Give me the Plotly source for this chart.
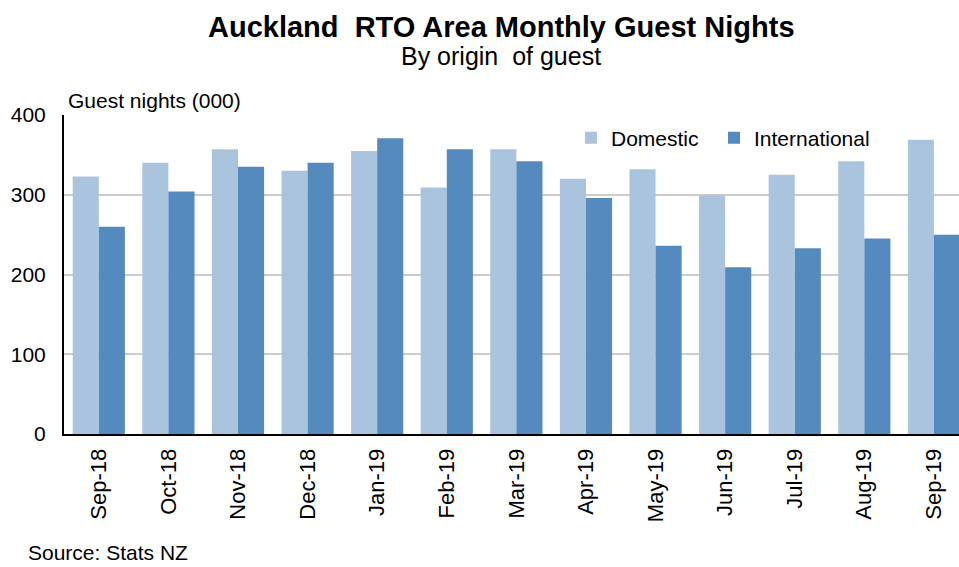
import plotly.graph_objects as go

categories = ["Sep-18", "Oct-18", "Nov-18", "Dec-18", "Jan-19", "Feb-19", "Mar-19",
              "Apr-19", "May-19", "Jun-19", "Jul-19", "Aug-19", "Sep-19"]
domestic = [323, 340, 357, 330, 355, 309, 357, 320, 332, 299, 325, 342, 369]
international = [260, 304, 335, 340, 371, 357, 342, 296, 236, 209, 233, 245, 250]
y_ticks = [0, 100, 200, 300, 400]

FONT = "Liberation Sans, Arial, sans-serif"

PL, PT, PR, PB = 64, 115, 959, 434

def px_x(px):
    return (px - PL) / (PR - PL)

def px_y(py):
    return (PB - py) / (PB - PT)

fig = go.Figure()
fig.add_trace(go.Bar(x=categories, y=domestic, name="Domestic", legend="legend",
                     marker=dict(color="#abc4de", line=dict(width=0))))
fig.add_trace(go.Bar(x=categories, y=international, name="International", legend="legend2",
                     marker=dict(color="#558abf", line=dict(width=0))))

leg_common = dict(orientation="h", xanchor="left", yanchor="middle",
                  font=dict(size=21, family=FONT), bgcolor="rgba(0,0,0,0)", itemwidth=30)

fig.update_layout(
    width=959, height=567,
    margin=dict(l=PL, r=959 - PR, t=PT, b=567 - PB),
    paper_bgcolor="white", plot_bgcolor="white",
    barmode="group", bargap=0.25, bargroupgap=0,
    font=dict(family=FONT, color="black"),
    showlegend=True,
    legend=dict(x=px_x(571), y=px_y(138), **leg_common),
    legend2=dict(x=px_x(714), y=px_y(138), **leg_common),
    xaxis=dict(type="category", range=[-0.5, 12.36], tickangle=-90,
               tickfont=dict(size=22, family=FONT), showline=True, linecolor="black",
               linewidth=2, ticks="", showgrid=False, fixedrange=True,
               ticklabelstandoff=4),
    yaxis=dict(range=[0, 400], tickvals=y_ticks, tickfont=dict(size=21, family=FONT),
               showline=True, linecolor="black", linewidth=2, ticks="",
               showgrid=True, gridcolor="#cccccc", gridwidth=2, zeroline=False,
               fixedrange=True, ticklabelstandoff=12),
)

fig.add_annotation(text="<b>Auckland  RTO Area Monthly Guest Nights</b>", xref="paper", yref="paper",
                   x=px_x(501), y=px_y(27), xanchor="center", yanchor="middle",
                   showarrow=False, font=dict(size=29, family=FONT))
fig.add_annotation(text="By origin  of guest", xref="paper", yref="paper",
                   x=px_x(501), y=px_y(56), xanchor="center", yanchor="middle",
                   showarrow=False, font=dict(size=25, family=FONT))
fig.add_annotation(text="Guest nights (000)", xref="paper", yref="paper",
                   x=px_x(66), y=px_y(100), xanchor="left", yanchor="middle",
                   showarrow=False, font=dict(size=21, family=FONT))
fig.add_annotation(text="Source: Stats NZ", xref="paper", yref="paper",
                   x=px_x(26), y=px_y(552), xanchor="left", yanchor="middle",
                   showarrow=False, font=dict(size=21, family=FONT))

fig.write_html("out.html", config={"displayModeBar": False},
               post_script="document.body.style.margin='0';document.body.style.padding='0';")
